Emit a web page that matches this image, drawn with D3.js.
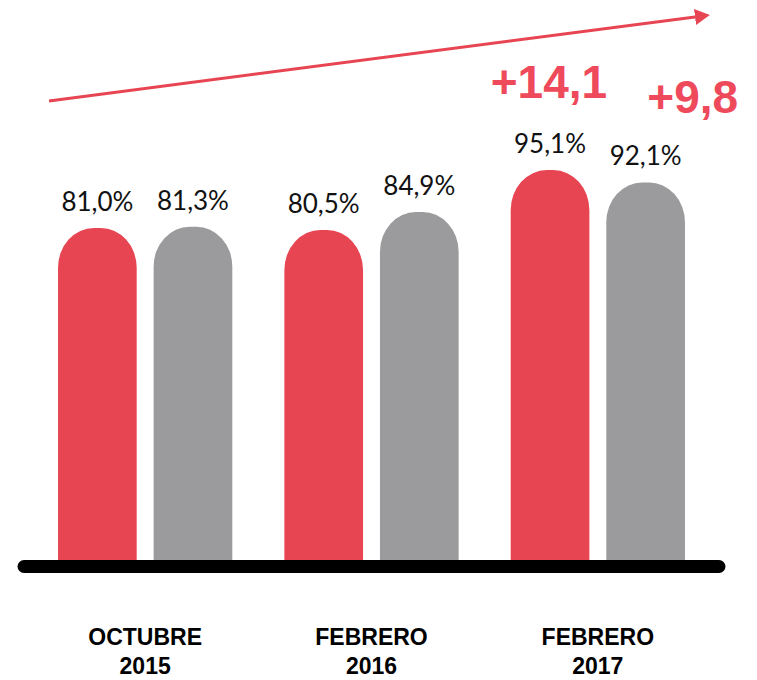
<!DOCTYPE html>
<meta charset="utf-8">
<style>
body { margin: 0; background: #fff; }
.value { font: 26px Lato, "Open Sans", sans-serif; fill: #111; text-anchor: middle; }
.cat { font: bold 23px "Liberation Sans", Arial, sans-serif; fill: #000; text-anchor: middle; }
.delta { font: bold 46px "Liberation Sans", Arial, sans-serif; fill: #ef4a5b; }
</style>
<script src="https://cdnjs.cloudflare.com/ajax/libs/d3/7.8.5/d3.min.js"></script>
<body>
<svg id="chart" width="757" height="680"></svg>
<script>
// data
var periods = ["OCTUBRE\n2015", "FEBRERO\n2016", "FEBRERO\n2017"];
var seriesA = [81.0, 80.5, 95.1];   // red
var seriesB = [81.3, 84.9, 92.1];   // gray
var deltaLabels = ["+14,1", "+9,8"];

var colors = { a: "#e84553", b: "#9b9b9d" };

var svg = d3.select("#chart");
var baseY = 560;

var x = d3.scaleBand().domain(periods).range([32, 711]).paddingInner(0.23).paddingOuter(0.115);
var xs = d3.scaleBand().domain(["a", "b"]).range([0, x.bandwidth()]).paddingInner(0.177);
var y = d3.scaleLinear().domain([0, 100]).range([baseY, 150]);

var rows = periods.map(function(p, i) {
    return [{ p: p, k: "a", v: seriesA[i] }, { p: p, k: "b", v: seriesB[i] }];
});
var flat = [].concat.apply([], rows);

function barPath(d) {
    var x0 = x(d.p) + xs(d.k), w = xs.bandwidth();
    var top = y(d.v), r = 36, ry = 40;
    return "M" + x0 + "," + baseY +
        "V" + (top + ry) +
        "A" + r + "," + ry + " 0 0 1 " + (x0 + r) + "," + top +
        "H" + (x0 + w - r) +
        "A" + r + "," + ry + " 0 0 1 " + (x0 + w) + "," + (top + ry) +
        "V" + baseY + "Z";
}

svg.selectAll("path.bar").data(flat).enter().append("path")
    .attr("class", "bar")
    .attr("d", barPath)
    .attr("fill", function(d) { return colors[d.k]; });

svg.selectAll("text.value").data(flat).enter().append("text")
    .attr("class", "value")
    .attr("x", function(d) { return x(d.p) + xs(d.k) + xs.bandwidth() / 2; })
    .attr("y", function(d) { return y(d.v) - 17; })
    .text(function(d) { return d.v.toFixed(1).replace(".", ",") + "%"; });

// baseline
svg.append("line")
    .attr("x1", 24).attr("x2", 719)
    .attr("y1", baseY + 6.5).attr("y2", baseY + 6.5)
    .attr("stroke", "#000").attr("stroke-width", 13).attr("stroke-linecap", "round");

// category labels
var cats = svg.selectAll("text.cat").data(periods).enter().append("text")
    .attr("class", "cat")
    .attr("x", function(d) { return x(d) + x.bandwidth() / 2; })
    .attr("y", 645);
cats.selectAll("tspan").data(function(d) { return d.split("\n"); }).enter().append("tspan")
    .attr("x", function() { return d3.select(this.parentNode).attr("x"); })
    .attr("dy", function(d, i) { return i ? 29 : 0; })
    .text(function(d) { return d; });

// trend arrow
svg.append("defs").append("marker")
    .attr("id", "head").attr("viewBox", "0 0 15 16")
    .attr("refX", 0).attr("refY", 8)
    .attr("markerWidth", 15).attr("markerHeight", 16)
    .attr("markerUnits", "userSpaceOnUse")
    .attr("orient", "auto")
    .append("path").attr("d", "M0,0L15,8L0,16Z").attr("fill", "#e84553");
svg.append("line")
    .attr("x1", 49).attr("y1", 101).attr("x2", 695).attr("y2", 17)
    .attr("stroke", "#e84553").attr("stroke-width", 3)
    .attr("marker-end", "url(#head)");

// deltas over the last period
var last = periods[2];
svg.selectAll("text.delta").data(deltaLabels).enter().append("text")
    .attr("class", "delta")
    .attr("x", function(d, i) { return i ? x(last) + xs("b") + 41 : x(last) + xs("a") - 20; })
    .attr("y", function(d, i) { return i ? 113 : 98; })
    .text(function(d) { return d; });
</script>
</body>
